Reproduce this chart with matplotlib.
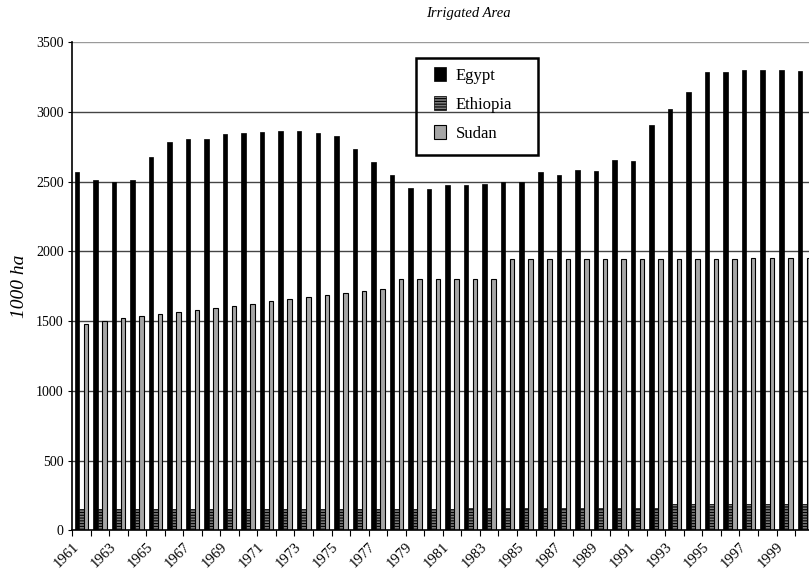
import matplotlib
matplotlib.use("Agg")
import matplotlib.pyplot as plt
from matplotlib.patches import Rectangle
import numpy as np

years = list(range(1961, 2001))
egypt = [2572, 2510, 2496, 2510, 2675, 2783, 2806, 2806, 2840, 2847,
         2857, 2861, 2861, 2847, 2828, 2735, 2639, 2546, 2453, 2448,
         2474, 2474, 2481, 2498, 2500, 2572, 2550, 2584, 2575, 2653,
         2646, 2904, 3019, 3143, 3285, 3289, 3303, 3303, 3303, 3294]
ethiopia = [150, 150, 150, 150, 150, 155, 155, 155, 155, 155,
            155, 155, 155, 155, 155, 155, 155, 155, 155, 155,
            155, 160, 160, 160, 160, 160, 162, 162, 162, 162,
            162, 162, 190, 190, 190, 190, 190, 190, 190, 190]
sudan = [1481, 1503, 1522, 1537, 1551, 1565, 1582, 1596, 1610, 1625,
         1642, 1656, 1671, 1687, 1699, 1716, 1730, 1802, 1802, 1802,
         1802, 1802, 1802, 1948, 1948, 1948, 1948, 1948, 1948, 1948,
         1948, 1948, 1948, 1948, 1948, 1948, 1950, 1950, 1950, 1950]
series_names = ["Egypt", "Ethiopia", "Sudan"]
yticks = [0, 500, 1000, 1500, 2000, 2500, 3000, 3500]

plt.rcParams['font.family'] = ['Liberation Serif', 'DejaVu Serif']
plt.rcParams['hatch.linewidth'] = 0.8

W, H = 809, 574
fig = plt.figure(figsize=(W/100, H/100), dpi=100)
ax = fig.add_axes([72/W, 1 - 530.2/H, 741.6/W, 487.9/H])

x = np.arange(len(years))
w = 0.243
ax.bar(x - w, egypt, width=w, color='black', edgecolor='black', linewidth=0.5,
       label=series_names[0], zorder=2)
ax.bar(x, ethiopia, width=w, color='#7a7a7a', edgecolor='black', hatch='------',
       linewidth=0.5, label=series_names[1], zorder=2)
ax.bar(x + w, sudan, width=w, color='#a6a6a6', edgecolor='black', linewidth=0.8,
       label=series_names[2], zorder=2)

ax.set_xlim(-0.5, len(years) - 0.5)
ax.set_ylim(0, 3500)
ax.set_yticks(yticks)
ax.set_yticklabels([str(v) for v in yticks], fontsize=10)
for v in yticks[1:]:
    ax.axhline(v, color='#444444' if v < 3500 else '#9a9a9a', linewidth=1.0, zorder=1)

ax.set_xticks(x[::2])
ax.set_xticklabels([str(y) for y in years[::2]], rotation=45, ha='right',
                   va='top', fontsize=10.5)
ax.tick_params(axis='x', which='major', length=0, pad=7)
ax.set_xticks(np.arange(-0.5, len(years), 1), minor=True)
ax.tick_params(axis='x', which='minor', length=4, direction='out', width=0.8)
ax.tick_params(axis='y', length=3, width=0.8, pad=3)

for s in ['top', 'right']:
    ax.spines[s].set_visible(False)
ax.spines['left'].set_linewidth(1.2)
ax.spines['bottom'].set_linewidth(1.2)

ax.set_ylabel('1000 ha', fontsize=14, style='italic', labelpad=6)
fig.text(468/W, 1 - 14/H, 'Irrigated Area', ha='center', va='center',
         fontsize=10.5, style='italic')

# legend frame drawn separately: x 416..538 px, y 58..155 px
fig.patches.append(Rectangle((416/W, 1 - 155/H), (538-416)/W, (155-58)/H,
                             transform=fig.transFigure, fill=False,
                             edgecolor='black', linewidth=1.8, zorder=5))
leg = fig.legend(*ax.get_legend_handles_labels(), loc='upper left',
                 bbox_to_anchor=(434/W, 1 - 67/H), frameon=False,
                 fontsize=12, handlelength=0.7, handleheight=0.9,
                 borderpad=0, labelspacing=0.75, handletextpad=0.6,
                 borderaxespad=0)

fig.savefig('out.png', dpi=100)
